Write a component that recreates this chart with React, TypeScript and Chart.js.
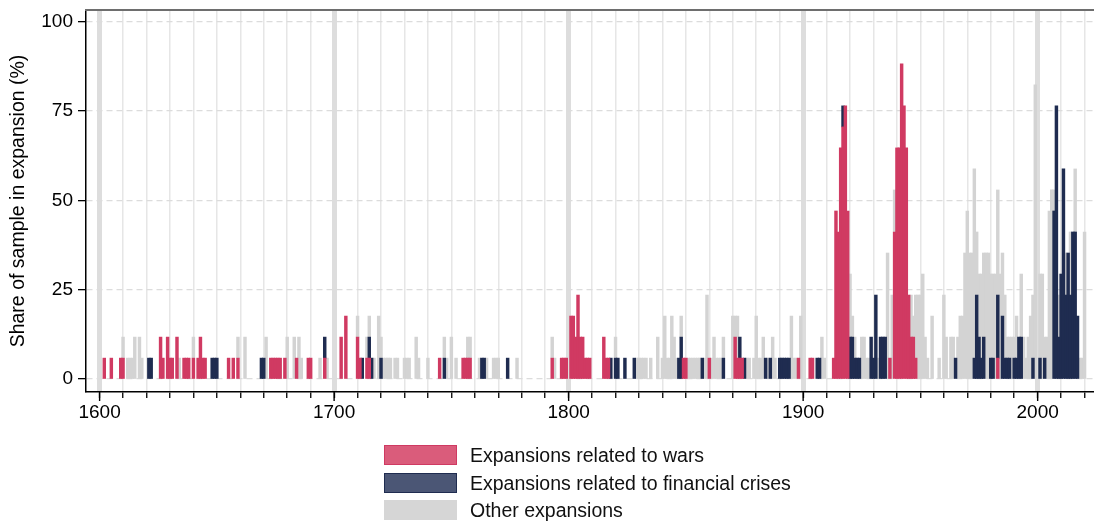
import React, { useEffect, useRef } from "react";
import { Chart, registerables } from "chart.js";

Chart.register(...registerables);

// ---- data (counts of countries in expansion, sample of 17) ----
const FIRST_YEAR = 1594;
const LAST_YEAR = 2023;
const SAMPLE_SIZE = 17;
const Y_TICKS = [0, 25, 50, 75, 100];
const X_LABEL_YEARS = [1600, 1700, 1800, 1900, 2000];

const WAR: [number, number][] = [
  [1602,1],[1605,1],[1609,1],[1610,1],[1626,2],[1627,1],[1629,2],[1630,1],[1631,1],[1633,2],[1636,1],[1637,1],[1638,1],[1640,1],[1642,1],[1643,2],[1644,1],[1645,1],
  [1655,1],[1657,1],[1659,1],[1673,1],[1674,1],[1675,1],[1676,1],[1677,1],[1679,1],[1684,1],[1689,1],[1690,1],[1696,1],
  [1703,2],[1705,3],[1710,2],[1711,1],[1714,1],[1715,1],[1745,1],
  [1755,1],[1756,1],[1757,1],[1758,1],[1793,1],[1797,1],[1798,1],[1799,1],
  [1801,3],[1802,3],[1803,2],[1804,4],[1805,2],[1806,2],[1807,1],[1808,1],[1809,1],[1815,2],[1816,1],[1817,1],
  [1849,1],[1850,1],[1860,1],[1871,2],[1872,1],[1873,1],[1874,1],[1898,1],
  [1903,1],[1904,1],[1913,1],[1914,8],[1915,7],[1916,11],[1917,12],[1918,13],[1919,8],
  [1937,1],[1939,7],[1940,11],[1941,11],[1942,15],[1943,13],[1944,11],[1945,4],[1946,2],[1947,2],[1948,1],[1983,1],
];

const FINANCIAL: [number, number][] = [
  [1621,1],[1622,1],[1648,1],[1649,1],[1650,1],[1669,1],[1670,1],[1696,1],[1712,1],[1715,1],[1716,1],[1720,1],[1747,1],[1763,1],[1764,1],[1774,1],
  [1818,1],[1820,1],[1821,1],[1824,1],[1828,1],[1847,1],[1848,2],[1857,1],[1866,1],[1873,1],[1875,1],[1884,1],[1886,1],[1890,1],[1891,1],[1892,1],[1893,1],[1894,1],
  [1906,1],[1907,1],[1917,1],[1920,2],[1921,2],[1922,1],[1923,1],[1924,1],[1929,2],[1930,1],[1931,4],[1933,2],[1934,2],[1935,2],
  [1965,1],[1973,1],[1974,4],[1975,2],[1976,1],[1977,2],[1980,1],[1981,1],[1983,3],[1985,3],[1986,1],[1987,1],[1988,1],[1990,1],[1991,1],[1992,2],[1993,2],[1998,1],[2001,1],[2003,1],
  [2007,8],[2008,13],[2009,2],[2010,5],[2011,10],[2012,4],[2013,6],[2014,4],[2015,7],[2016,7],[2017,3],
];

const OTHER: [number, number][] = [
  [1610,1],[1612,1],[1613,1],[1614,1],[1615,2],[1617,2],[1618,1],[1634,1],[1640,1],
  [1659,1],[1662,2],[1671,2],[1680,2],[1683,2],[1685,2],[1686,1],[1694,1],[1697,1],
  [1710,1],[1714,1],[1715,1],[1717,1],[1719,3],[1720,1],[1721,1],[1722,1],[1723,1],[1724,1],[1726,1],[1727,1],[1730,1],[1731,1],[1732,1],[1735,2],[1736,1],[1740,1],[1747,1],[1748,1],
  [1750,2],[1752,1],[1757,1],[1758,1],[1762,1],[1765,1],[1768,1],[1769,1],[1770,1],[1778,1],[1793,1],[1794,1],
  [1820,1],[1829,1],[1830,1],[1831,1],[1832,1],[1833,1],[1835,1],[1838,2],[1840,1],[1841,3],[1842,1],[1843,1],[1844,3],[1845,2],[1846,1],[1848,1],
  [1851,1],[1852,1],[1853,1],[1854,1],[1855,1],[1856,1],[1858,1],[1859,4],[1861,1],[1862,2],[1863,1],[1864,1],[1865,1],[1866,1],[1870,3],[1871,1],[1872,2],[1876,1],[1877,1],[1879,1],[1880,3],[1881,1],[1882,1],[1883,2],[1885,1],[1887,2],[1888,1],[1895,3],[1896,1],[1897,1],[1899,3],
  [1908,2],[1909,1],[1920,3],[1921,1],[1922,1],[1925,2],[1926,2],[1927,1],[1928,1],[1932,1],[1936,6],[1938,4],[1939,2],[1946,2],[1947,1],[1948,3],[1949,4],[1950,4],[1951,5],[1952,2],[1953,1],[1955,3],[1958,1],[1960,4],[1961,2],[1963,2],[1964,2],[1966,2],[1967,3],[1968,3],[1969,6],[1970,8],[1971,6],[1972,6],[1973,9],[1974,3],[1975,3],[1976,4],[1977,4],[1978,6],[1979,6],[1980,4],[1981,4],[1982,5],[1983,5],[1984,5],[1985,3],[1986,3],[1987,1],[1988,1],[1989,2],[1990,1],[1991,2],[1993,3],[1994,2],[1995,1],[1996,2],[1997,3],[1998,3],[1999,14],[2001,4],[2002,5],[2003,1],[2004,2],[2005,8],[2006,9],[2007,1],[2009,2],[2012,2],[2014,3],[2016,3],[2018,1],[2019,1],[2020,7],
];

const SERIES_NAMES = [
  "Expansions related to wars",
  "Expansions related to financial crises",
  "Other expansions",
];

// ---- styling ----
const FONT = "'Liberation Sans', Arial, Helvetica, sans-serif";
const BAR_COLORS = ["#D03A62", "#1F2C50", "#D3D3D3"];
const LEGEND_FILL = ["#DA5C7B", "#4B5675", "#D6D6D6"];
const LEGEND_BORDER = ["#CF3A62", "#1F2C50", "#D6D6D6"];

const YEARS = Array.from({ length: LAST_YEAR - FIRST_YEAR + 1 }, (_, i) => FIRST_YEAR + i);

function toSeries(pairs: [number, number][]) {
  const m = new Map<number, number>(pairs);
  return YEARS.map((yr) => ({
    x: yr,
    y: m.has(yr) ? ((m.get(yr) as number) / SAMPLE_SIZE) * 100 : null,
  }));
}

const framePlugin = {
  id: "frameAndCenturyTicks",
  afterDraw(chart: any) {
    const { ctx, chartArea } = chart;
    const xs = chart.scales.x;
    ctx.save();
    ctx.strokeStyle = "#000";
    ctx.lineWidth = 1.4;
    for (const v of X_LABEL_YEARS) {
      const px = xs.getPixelForValue(v);
      ctx.beginPath();
      ctx.moveTo(px, chartArea.bottom);
      ctx.lineTo(px, chartArea.bottom + 9);
      ctx.stroke();
    }
    ctx.strokeStyle = "#6e6e6e";
    ctx.lineWidth = 2;
    ctx.beginPath();
    ctx.moveTo(chartArea.left - 1, chartArea.top);
    ctx.lineTo(chartArea.right + 1, chartArea.top);
    ctx.stroke();
    ctx.restore();
  },
};

export default function App() {
  const canvasRef = useRef<HTMLCanvasElement | null>(null);

  useEffect(() => {
    if (!canvasRef.current) return;
    const datasets = [WAR, FINANCIAL, OTHER].map((pairs, i) => ({
      label: SERIES_NAMES[i],
      data: toSeries(pairs),
      backgroundColor: BAR_COLORS[i],
      borderWidth: 0,
      barThickness: 2.8,
    }));

    const chart = new Chart(canvasRef.current, {
      type: "bar",
      data: { datasets } as any,
      plugins: [framePlugin],
      options: {
        animation: false,
        responsive: false,
        maintainAspectRatio: false,
        layout: { padding: { top: 10, right: 1, bottom: 100, left: 0 } },
        plugins: { legend: { display: false }, tooltip: { enabled: false } },
        scales: {
          x: {
            type: "linear",
            min: 1594.2,
            max: 2023.6,
            offset: false,
            stacked: true,
            grid: {
              offset: false,
              color: (c: any) =>
                c.tick && c.tick.value % 100 === 0 ? "#dddddd" : "#e6e6e6",
              lineWidth: (c: any) => (c.tick && c.tick.value % 100 === 0 ? 5 : 1.5),
              tickColor: "#000",
              tickLength: 6,
              tickWidth: 1.3,
            },
            border: { color: "#000", width: 1.5 },
            ticks: {
              stepSize: 10,
              autoSkip: false,
              includeBounds: false,
              maxRotation: 0,
              minRotation: 0,
              padding: 3,
              color: "#000",
              font: { family: FONT, size: 19 },
              callback: (v: any) => (X_LABEL_YEARS.includes(Number(v)) ? String(v) : ""),
            },
            afterFit: (s: any) => {
              s.height = 30;
            },
          } as any,
          y: {
            min: -3.6,
            max: 103.3,
            stacked: true,
            grid: {
              color: "#dcdcdc",
              lineWidth: 1.3,
              tickColor: "#000",
              tickLength: 8,
              tickWidth: 1.3,
            },
            border: { color: "#000", width: 1.5, dash: [6, 4] },
            afterBuildTicks: (s: any) => {
              s.ticks = Y_TICKS.map((v) => ({ value: v }));
            },
            ticks: {
              padding: 5,
              color: "#000",
              font: { family: FONT, size: 19, lineHeight: 0.5 },
            },
            title: {
              display: true,
              text: "Share of sample in expansion (%)",
              color: "#000",
              font: { family: FONT, size: 19.5 },
              padding: { top: 7, bottom: 0 },
            },
            afterFit: (s: any) => {
              s.width = 86;
            },
          } as any,
        },
      } as any,
    });
    return () => chart.destroy();
  }, []);

  const rowTops = [445, 472.5, 500];
  return (
    <div style={{ position: "absolute", left: 0, top: 0, width: 1094, height: 522, background: "#fff" }}>
      <canvas ref={canvasRef} width={1094} height={522} style={{ width: 1094, height: 522, display: "block" }} />
      {SERIES_NAMES.map((name, i) => (
        <div key={name}>
          <div
            style={{
              position: "absolute",
              left: 384,
              top: rowTops[i],
              width: 73,
              height: 20,
              boxSizing: "border-box",
              background: LEGEND_FILL[i],
              border: `1.5px solid ${LEGEND_BORDER[i]}`,
            }}
          />
          <div
            style={{
              position: "absolute",
              left: 470,
              top: rowTops[i] - 2,
              height: 24,
              lineHeight: "24px",
              fontFamily: FONT,
              fontSize: 19.5,
              color: "#111",
              whiteSpace: "nowrap",
            }}
          >
            {name}
          </div>
        </div>
      ))}
    </div>
  );
}
